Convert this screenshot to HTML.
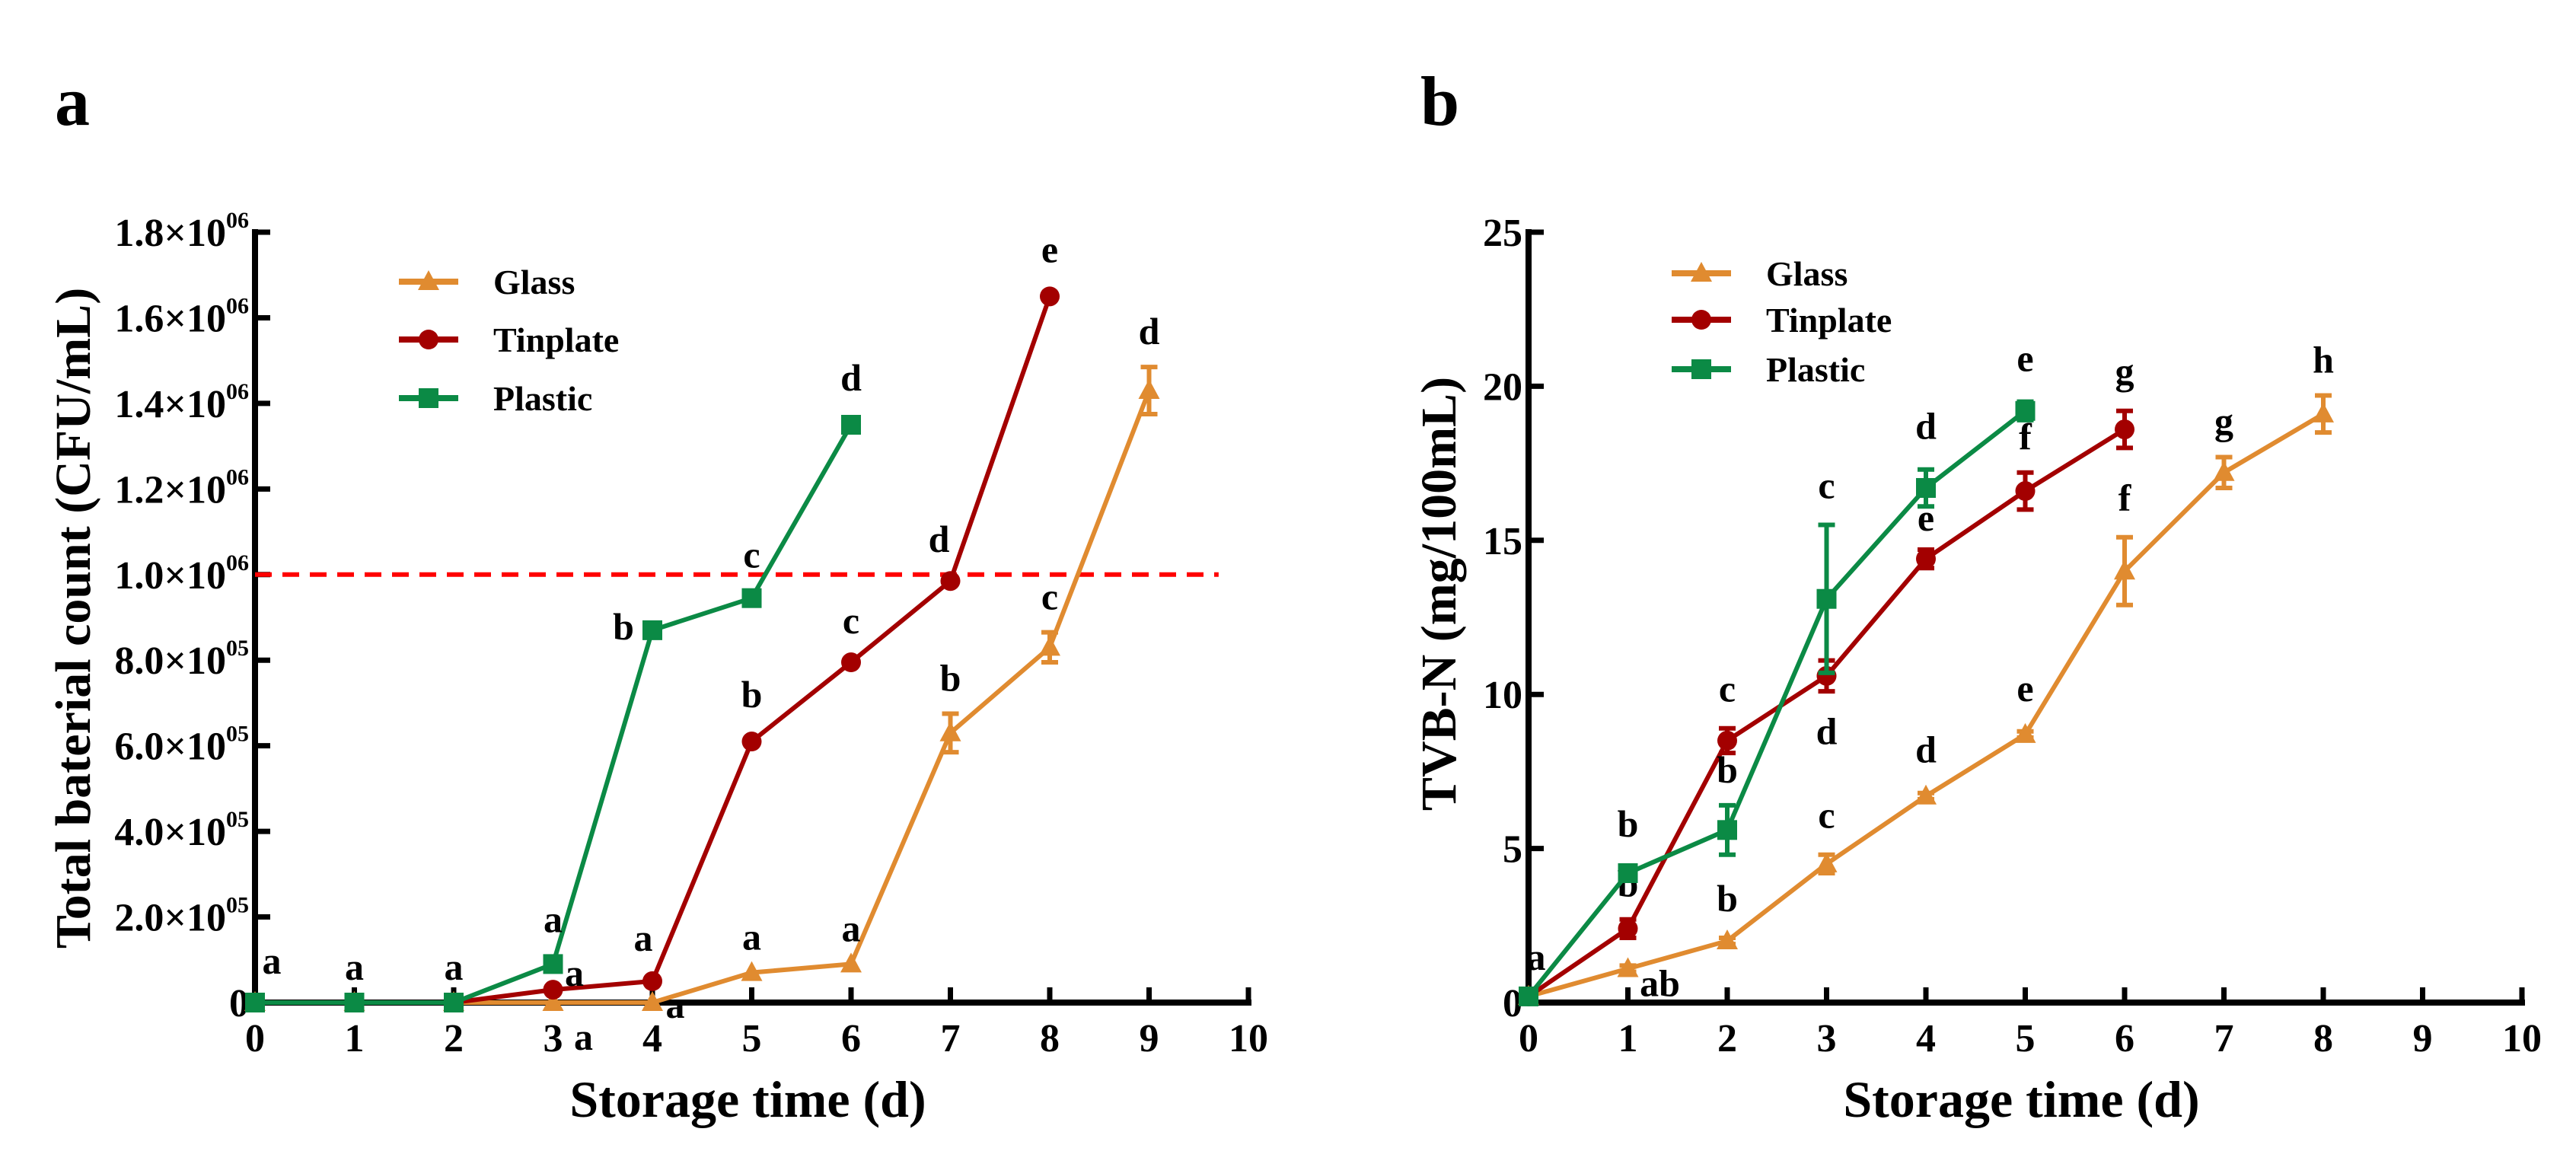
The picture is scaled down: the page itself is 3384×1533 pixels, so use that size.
<!DOCTYPE html>
<html><head><meta charset="utf-8"><style>
html,body{margin:0;padding:0;background:#fff;}
svg{display:block;font-family:"Liberation Serif",serif;font-weight:bold;}
</style></head><body>
<svg id="fig" width="3384" height="1533" viewBox="0 0 3384 1533" xmlns="http://www.w3.org/2000/svg">
<rect width="3384" height="1533" fill="#fff"/>
<g id="chartA"></g>
<g id="chartB"></g>
</svg>
<script>
// ---- Chart A data (units of 1e5 CFU/mL) ----
const daysA = [0,1,2,3,4,5,6,7,8,9];
const glassA = [0,0,0,0,0,0.7,0.9,6.3,8.3,14.3];
const glassErrA = [0,0,0,0,0,0,0,0.45,0.35,0.55];
const tinA = [0,0,0,0.3,0.5,6.1,7.95,9.85,16.5];
const tinErrA = [0,0,0,0,0,0,0,0,0];
const plasticA = [0,0,0,0.9,8.7,9.45,13.5];
const plasticErrA = [0,0,0,0,0,0,0];
const yTicksA = [0,2,4,6,8,10,12,14,16,18];
const yTickMantA = ["0","2.0","4.0","6.0","8.0","1.0","1.2","1.4","1.6","1.8"];
const yTickExpA = ["","05","05","05","05","06","06","06","06","06"];
const limitA = 10;
const lettersGlassA = ["a","a","a","a","a","a","a","b","c","d"];
const lettersTinA = ["","","","a","a","b","c","d","e"];
const lettersPlasticA = ["","","","a","b","c","d"];
// ---- Chart B data (mg/100mL) ----
const glassB = [0.2,1.1,2.0,4.5,6.7,8.7,14.0,17.2,19.1];
const glassErrB = [0,0.1,0.1,0.3,0.1,0.1,1.1,0.5,0.6];
const tinB = [0.2,2.4,8.5,10.6,14.4,16.6,18.6];
const tinErrB = [0,0.3,0.4,0.5,0.3,0.6,0.6];
const plasticB = [0.2,4.2,5.6,13.1,16.7,19.2];
const plasticErrB = [0,0.2,0.8,2.4,0.6,0.3];
const yTicksB = [0,5,10,15,20,25];
const lettersGlassB = ["","ab","b","c","d","e","f","g","h"];
const lettersTinB = ["a","b","c","d","e","f","g"];
const lettersPlasticB = ["","b","b","c","d","e"];
const xTicks = [0,1,2,3,4,5,6,7,8,9,10];

const NS="http://www.w3.org/2000/svg";
const C={glass:"#E08B30",tin:"#A30000",plastic:"#0B8A45"};
function el(tag,attrs,parent,text){const e=document.createElementNS(NS,tag);for(const k in attrs)e.setAttribute(k,attrs[k]);if(text!==undefined)e.textContent=text;parent.appendChild(e);return e;}

function marker(g,shape,x,y,col){
  let m;
  if(shape==="tri") m=el("polygon",{points:`${x},${y-15} ${x-14},${y+11} ${x+14},${y+11}`,fill:col},g);
  else if(shape==="circ") m=el("circle",{cx:x,cy:y,r:13,fill:col},g);
  else m=el("rect",{x:x-13,y:y-13,width:26,height:26,fill:col},g);
  return m;
}

function buildChart(root,cfg){
  const X0=cfg.x0, Y0=1317, dx=130.5, ymax=cfg.ymax, H=1012;
  const sx=d=>X0+d*dx, sy=v=>Y0-v/ymax*H;
  const ax=el("line",{x1:X0,y1:Y0,x2:sx(10)+4,y2:Y0,stroke:"#000","stroke-width":8},root);
  
  
  const ay=el("line",{x1:X0,y1:Y0+4,x2:X0,y2:sy(ymax)-4,stroke:"#000","stroke-width":8},root);
  
  
  xTicks.forEach(t=>{
    const tk=el("line",{x1:sx(t),y1:Y0,x2:sx(t),y2:Y0-20,stroke:"#000","stroke-width":7},root);
    
    
    const tl=el("text",{x:sx(t),y:Y0+64,"font-size":52,"text-anchor":"middle"},root,String(t));
    
    
  });
  cfg.yTicks.forEach((t,i)=>{
    const tk=el("line",{x1:X0,y1:sy(t),x2:X0+20,y2:sy(t),stroke:"#000","stroke-width":7},root);
    
    
    const tl=el("text",{x:X0-8,y:sy(t)+18,"font-size":52,"text-anchor":"end"},root);
    
    
    if(cfg.mant && cfg.exp[i]){
      el("tspan",{},tl,cfg.mant[i]+"×10");
      el("tspan",{"font-size":30,dy:-24},tl,cfg.exp[i]);
    } else tl.textContent = cfg.mant? cfg.mant[i] : String(t);
  });
  const xt=el("text",{x:sx(5)-5,y:1467,"font-size":68,"text-anchor":"middle"},root,"Storage time (d)");
  
  
  const yt=el("text",{x:0,y:0,"font-size":66,"text-anchor":"middle",transform:`translate(${cfg.ytx},${cfg.yty}) rotate(-90)`},root,cfg.ytitle);
  
  
  const pl=el("text",{x:cfg.plx,y:164,"font-size":92},root,cfg.panel);
  
  
  if(cfg.limit!==undefined){
    const dl=el("line",{x1:X0,y1:sy(cfg.limit),x2:sx(9.7),y2:sy(cfg.limit),stroke:"#FF0000","stroke-width":6,"stroke-dasharray":"22,14"},root);
    
    
  }
  cfg.series.forEach(s=>{
    const g=el("g",{},root);
    
    
    const pts=s.vals.map((v,i)=>`${sx(i)},${sy(v)}`).join(" ");
    const ln=el("polyline",{points:pts,fill:"none",stroke:C[s.key],"stroke-width":6,"stroke-linejoin":"round"},g);
    
    
    s.vals.forEach((v,i)=>{
      const e=s.err[i];
      if(e>0){
        const eb=el("path",{d:`M${sx(i)},${sy(v+e)}V${sy(v-e)}M${sx(i)-11},${sy(v+e)}H${sx(i)+11}M${sx(i)-11},${sy(v-e)}H${sx(i)+11}`,stroke:C[s.key],"stroke-width":6,fill:"none"},g);
        
        
      }
      const m=marker(g,s.shape,sx(i),sy(v),C[s.key]);
      
      
      const L=s.letters[i];
      if(L){
        const o=(s.off&&s.off[i])||[0,-30];
        const lt=el("text",{x:sx(i)+o[0],y:sy(v+e)+o[1],"font-size":50,"text-anchor":"middle"},g,L);
        
        
      }
    });
  });
  const lg=el("g",{},root);
  
  
  cfg.series.forEach((s,k)=>{
    const y=cfg.legY[k];
    const e=el("g",{},lg);
    
    
    el("line",{x1:cfg.legX,y1:y,x2:cfg.legX+78,y2:y,stroke:C[s.key],"stroke-width":8},e);
    marker(e,s.shape,cfg.legX+39,y,C[s.key]);
    el("text",{x:cfg.legX+124,y:y+16,"font-size":46},e,s.label);
  });
}

buildChart(document.getElementById("chartA"),{
  x0:335,ymax:18,yTicks:yTicksA,mant:yTickMantA,exp:yTickExpA,limit:limitA,
  ytitle:"Total baterial count (CFU/mL)",ytx:118,yty:812,panel:"a",plx:72,
  legX:524,legY:[370,446,523],
  series:[
    {name:"glass",key:"glass",label:"Glass",shape:"tri",vals:glassA,err:glassErrA,letters:lettersGlassA,
     off:{0:[22,-38],3:[40,62],4:[30,20]}},
    {name:"tinplate",key:"tin",label:"Tinplate",shape:"circ",vals:tinA,err:tinErrA,letters:lettersTinA,
     off:{3:[28,-5],4:[-12,-40],5:[0,-45],6:[0,-38],7:[-15,-38],8:[0,-45]}},
    {name:"plastic",key:"plastic",label:"Plastic",shape:"sq",vals:plasticA,err:plasticErrA,letters:lettersPlasticA,
     off:{3:[0,-42],4:[-38,12],5:[0,-40],6:[0,-45]}}
  ]
});
buildChart(document.getElementById("chartB"),{
  x0:2008,ymax:25,yTicks:yTicksB,
  ytitle:"TVB-N (mg/100mL)",ytx:1912,yty:780,panel:"b",plx:1866,
  legX:2196,legY:[359,420,485],
  series:[
    {name:"glass",key:"glass",label:"Glass",shape:"tri",vals:glassB,err:glassErrB,letters:lettersGlassB,
     off:{1:[42,40],2:[0,-35],3:[0,-35],4:[0,-40],5:[0,-40],6:[0,-35],7:[0,-30],8:[0,-30]}},
    {name:"tinplate",key:"tin",label:"Tinplate",shape:"circ",vals:tinB,err:tinErrB,letters:lettersTinB,
     off:{0:[10,-35],1:[0,-30],2:[0,-35],3:[0,110],4:[0,-25],5:[0,-30],6:[0,-35]}},
    {name:"plastic",key:"plastic",label:"Plastic",shape:"sq",vals:plasticB,err:plasticErrB,letters:lettersPlasticB,
     off:{1:[0,-40],2:[0,-30],3:[0,-35],4:[0,-40],5:[0,-40]}}
  ]
});
</script>
</body></html>
